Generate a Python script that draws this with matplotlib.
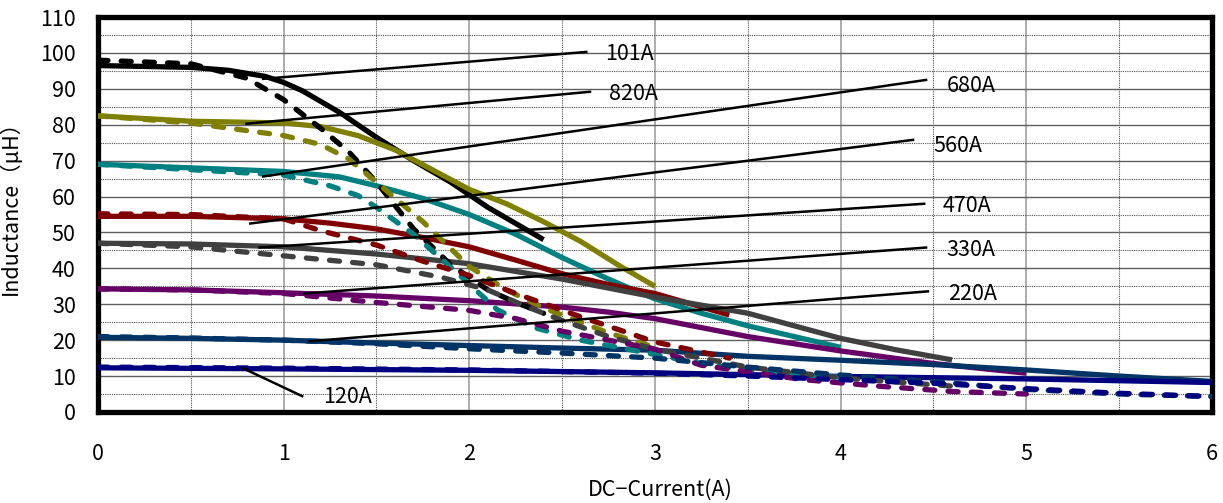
import matplotlib
matplotlib.use("Agg")
import matplotlib.pyplot as plt
from matplotlib.ticker import MultipleLocator

plt.rcParams['font.family'] = ['Noto Sans CJK JP', 'DejaVu Sans']

# part numbers and colours
parts = ['101A', '820A', '680A', '560A', '470A', '330A', '220A', '120A']
colours = ['#000000', '#808000', '#008080', '#800000', '#404040', '#660066', '#003366', '#000080']

# solid curves (x in A, y in uH)
solid_x = {
    '101A': [0, 0.5, 0.7, 0.9, 1.0, 1.1, 1.3, 1.5, 1.7, 1.9, 2.1, 2.25, 2.4],
    '820A': [0, 0.5, 1.0, 1.2, 1.4, 1.6, 1.8, 2.0, 2.2, 2.4, 2.6, 2.8, 3.0],
    '680A': [0, 0.5, 1.0, 1.3, 1.5, 1.75, 2.0, 2.25, 2.5, 2.75, 3.0, 3.25, 3.5, 3.75, 4.0],
    '560A': [0, 0.5, 1.0, 1.25, 1.5, 1.75, 2.0, 2.25, 2.5, 2.75, 3.0, 3.2, 3.4],
    '470A': [0, 0.5, 1.0, 1.5, 2.0, 2.5, 3.0, 3.5, 3.75, 4.0, 4.3, 4.6],
    '330A': [0, 0.5, 1.0, 1.5, 2.0, 2.5, 2.75, 3.0, 3.25, 3.5, 4.0, 4.5, 5.0],
    '220A': [0, 0.5, 1.0, 1.5, 2.0, 2.5, 3.0, 3.5, 4.0, 4.5, 5.0, 5.5, 6.0],
    '120A': [0, 1, 2, 3, 4, 5, 6],
}
solid_y = {
    '101A': [96.5, 96, 95.2, 93.5, 91.8, 89.5, 83.5, 76.5, 70, 64, 57, 52.5, 48],
    '820A': [82.5, 81, 80.5, 79.5, 77, 73, 67.5, 62, 58, 53, 47.5, 41, 35],
    '680A': [69, 68, 67, 65.5, 63, 59.5, 55, 49.5, 43, 37, 31.5, 27.5, 24, 21, 18],
    '560A': [54.5, 54.5, 53.8, 52.6, 51, 48.6, 46, 42.3, 38.5, 35.5, 33, 30, 27],
    '470A': [47, 46.8, 46, 44, 41.3, 37, 32, 27.5, 24, 20.5, 17.3, 14.5],
    '330A': [34.3, 34, 33.2, 32.3, 31, 29.2, 27.8, 26, 23.5, 21, 17, 13.5, 10.8],
    '220A': [20.8, 20.5, 20, 19.2, 18.5, 17.8, 17.2, 15.5, 14.4, 13.2, 11.7, 10, 8.5],
    '120A': [12.3, 12, 11.6, 10.9, 9.9, 9.2, 8.2],
}

# dashed curves
dash_x = {
    '101A': [0, 0.5, 0.8, 1.0, 1.2, 1.35, 1.5, 1.7, 1.9, 2.1, 2.25, 2.4],
    '820A': [0, 0.5, 1.0, 1.2, 1.35, 1.5, 1.75, 2.0, 2.2, 2.4, 2.75, 3.0],
    '680A': [0, 0.5, 1.0, 1.25, 1.4, 1.5, 1.7, 1.95, 2.15, 2.35, 2.6, 3.0, 3.3, 3.7, 4.0],
    '560A': [0, 0.5, 1.0, 1.2, 1.5, 1.75, 2.0, 2.25, 2.6, 3.0, 3.4],
    '470A': [0, 0.5, 1.0, 1.5, 1.85, 2.1, 2.3, 2.5, 2.75, 3.0, 3.5, 4.0, 4.6],
    '330A': [0, 0.5, 1.0, 1.5, 2.0, 2.25, 2.5, 3.0, 3.25, 3.8, 4.2, 4.6, 5.0],
    '220A': [0, 0.5, 1, 1.5, 2, 2.5, 3, 3.5, 4, 4.5, 5, 5.5, 6],
    '120A': [0, 1, 2, 3, 3.5, 4, 4.5, 5, 5.5, 6],
}
dash_y = {
    '101A': [98, 97, 93, 87, 79, 72.5, 64, 51, 41, 34, 30.5, 27.5],
    '820A': [82.5, 80.5, 77, 74.5, 70.5, 64, 53, 40.5, 34, 29, 22, 18],
    '680A': [69, 67.5, 66, 63, 60.3, 57, 49.5, 38, 28.5, 23.5, 20, 16, 13, 10.5, 9.7],
    '560A': [55.2, 55, 53.8, 50.5, 46.5, 42, 38, 33, 26.5, 19.5, 15],
    '470A': [47, 46, 43.5, 41, 37.5, 34, 29.5, 25.5, 21, 17.5, 12.5, 9.5, 7.2],
    '330A': [34.3, 34, 33, 30.5, 28.3, 26, 22.5, 17.5, 13, 9, 7.2, 5.7, 5],
    '220A': [21, 20.6, 20, 19, 17.6, 16.4, 15, 12.5, 10.3, 8.5, 6.3, 5, 4.3],
    '120A': [12.5, 12.2, 11.7, 10.8, 10, 9, 8, 6.5, 5.2, 4.3],
}

# leader lines: (x0, y0, x1, y1) and label anchor
leaders = {
    '101A': (0.89, 92.8, 2.63, 100.3),
    '820A': (0.80, 80.3, 2.65, 89.2),
    '680A': (0.89, 65.6, 4.46, 92.5),
    '560A': (0.82, 52.5, 4.39, 75.8),
    '470A': (0.87, 45.8, 4.45, 58.0),
    '330A': (1.11, 33.0, 4.46, 45.8),
    '220A': (1.14, 19.7, 4.47, 33.6),
    '120A': (0.78, 12.2, 1.10, 4.4),
}
label_pos = {
    '101A': (2.73, 99.7), '820A': (2.75, 88.6), '680A': (4.57, 90.8),
    '560A': (4.50, 74.0), '470A': (4.55, 57.5), '330A': (4.57, 45.0),
    '220A': (4.58, 33.0), '120A': (1.21, 4.2),
}

fig = plt.figure(figsize=(12.23, 5.03), dpi=100)
ax = fig.add_axes([0.0801, 0.181, 0.9109, 0.785])

ax.set_xlim(0, 6)
ax.set_ylim(0, 110)
ax.xaxis.set_major_locator(MultipleLocator(1))
ax.xaxis.set_minor_locator(MultipleLocator(0.5))
ax.yaxis.set_major_locator(MultipleLocator(10))
ax.yaxis.set_minor_locator(MultipleLocator(5))
ax.grid(which='major', axis='x', color='#a0a0a0', linewidth=1.2, linestyle='-')
ax.grid(which='major', axis='y', color='#606060', linewidth=1.0, linestyle='-')
ax.grid(which='minor', color='#505050', linewidth=0.8, linestyle=(0, (1, 1)))
ax.set_axisbelow(True)
ax.tick_params(which='both', length=0)
ax.tick_params(axis='x', pad=22, labelsize=15.5)
ax.tick_params(axis='y', pad=16, labelsize=15.5)
for s in ax.spines.values():
    s.set_linewidth(3.8)
    s.set_color('black')

for p, c in zip(parts, colours):
    ax.plot(solid_x[p], solid_y[p], color=c, linewidth=3.8,
            solid_capstyle='butt', solid_joinstyle='round', zorder=3)
for p, c in zip(parts, colours):
    ax.plot(dash_x[p], dash_y[p], color=c, linewidth=3.8,
            linestyle=(0, (1.9, 2.5)), dash_capstyle='round', zorder=3)

for p in parts:
    x0, y0, x1, y1 = leaders[p]
    ax.plot([x0, x1], [y0, y1], color='black', linewidth=1.8, zorder=4)
    lx, ly = label_pos[p]
    ax.text(lx, ly, p, fontsize=15.5, ha='left', va='center', zorder=5)

ax.set_xlabel('DC−Current(A)', fontsize=15.5)
ax.xaxis.set_label_coords(0.505, -0.17)
ax.set_ylabel('Inductance\uff08μH\uff09', fontsize=15.5)
ax.yaxis.set_label_coords(-0.068, 0.53)

fig.savefig('out.png', dpi=100)
